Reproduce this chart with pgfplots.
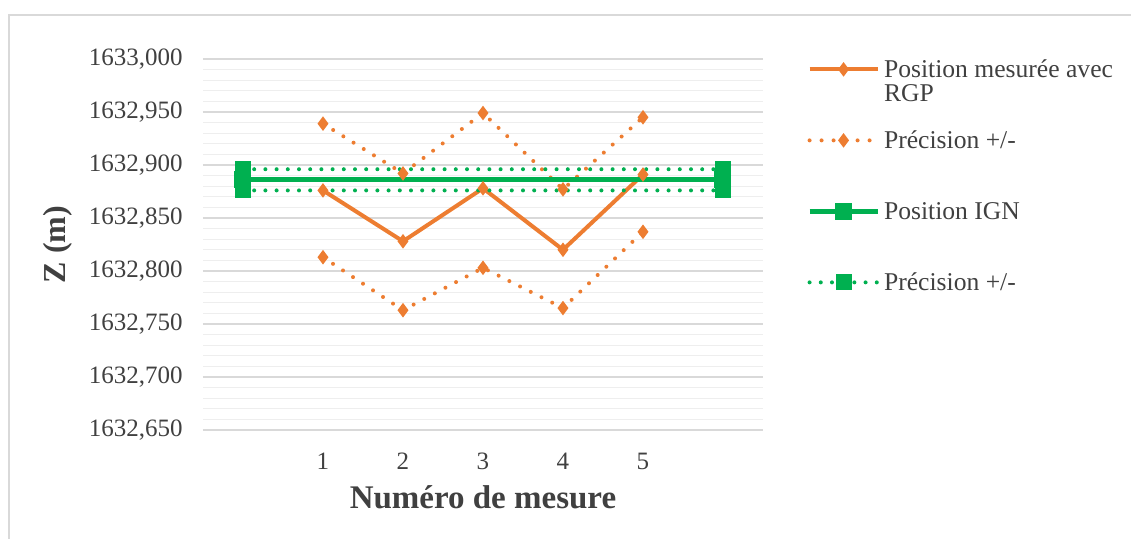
\documentclass[border=0pt]{standalone}
\usepackage{fontspec}
\setmainfont{Liberation Serif}
\usepackage{pgfplots}
\pgfplotsset{compat=1.18}
\definecolor{orng}{HTML}{ED7D31}
\definecolor{grn}{HTML}{00B050}
\definecolor{gridmaj}{HTML}{D9D9D9}
\definecolor{gridmin}{HTML}{EEEEEE}

\begin{document}
\begin{tikzpicture}
\useasboundingbox (-101.5pt,-54.5pt) rectangle (464pt,215pt);
\draw[gridmaj, line width=0.9pt] (-97pt,-60pt) -- (-97pt,207.5pt) -- (470pt,207.5pt);
\begin{axis}[
  scale only axis, width=280pt, height=185.5pt,
  xmin=-0.5, xmax=6.5, ymin=1632.65, ymax=1633,
  xtick={1,2,3,4,5},
  ytick={1632.65,1632.7,1632.75,1632.8,1632.85,1632.9,1632.95,1633},
  minor y tick num=4,
  ymajorgrids, yminorgrids,
  major grid style={gridmaj, line width=0.8pt},
  minor grid style={gridmin, line width=0.6pt},
  axis line style={draw=none},
  tick style={draw=none},
  /pgf/number format/assume math mode=true,
  ticklabel style={font=\fontsize{12.5}{13}\selectfont, text=black!75},
  yticklabel style={anchor=east, inner sep=0pt, xshift=-10pt,
    /pgf/number format/.cd, fixed, fixed zerofill, precision=3, use comma, 1000 sep={}},
  xticklabel style={anchor=center, yshift=-15.5pt},
  xlabel={Numéro de mesure},
  ylabel={Z (m)},
  every axis x label/.style={at={(axis description cs:0.5,-0.181)}, anchor=center,
    font=\fontsize{16.5}{18}\selectfont\bfseries, text=black!75},
  every axis y label/.style={at={(axis description cs:-0.259,0.5)}, anchor=center, rotate=90,
    font=\fontsize{16}{18}\selectfont\bfseries, text=black!75},
  legend image code/.code={\draw[mark repeat=2,mark phase=2,#1] plot coordinates {(0pt,4pt) (17pt,4pt) (34pt,4pt)};},
  legend style={at={(axis description cs:1.078,1.0647)}, anchor=north west, draw=none, fill=none,
    inner sep=0pt, row sep=11pt, column sep=0pt,
    font=\fontsize{12.8}{12}\selectfont,
    cells={anchor=base west, inner sep=0pt, text=black!75}},
  orangedot/.style={orng, line width=2pt, dash pattern=on 0pt off 6pt, line cap=round,
    mark=diamond*, mark size=2pt, mark options={solid, fill=orng}},
  greendot/.style={grn, line width=2pt, dash pattern=on 0pt off 5.6pt, line cap=round,
    mark=square*, mark size=3pt, mark options={solid, fill=grn}},
]
% mesures RGP
\addplot[orng, line width=2pt, mark=diamond*, mark size=2pt, mark options={fill=orng}] coordinates {
  (1,1632.876) (2,1632.828) (3,1632.878) (4,1632.820) (5,1632.891)};
\addlegendentry{\begin{tabular}[t]{@{}l@{}}\rule{0pt}{19pt}Position mesurée avec\\RGP\rule[-4pt]{0pt}{4pt}\end{tabular}}
\addplot[orangedot] coordinates {
  (1,1632.939) (2,1632.892) (3,1632.949) (4,1632.877) (5,1632.945)};
\addlegendentry{\rule[-16pt]{0pt}{35pt}Précision +/-}
\addplot[orangedot, forget plot] coordinates {
  (1,1632.813) (2,1632.763) (3,1632.803) (4,1632.765) (5,1632.837)};
% position IGN
\addplot[grn, line width=2.5pt, mark=square*, mark size=3pt, mark options={fill=grn}] coordinates {
  (0,1632.886) (6,1632.886)};
\addlegendentry{\rule[-16pt]{0pt}{35pt}Position IGN}
\addplot[greendot] coordinates {(0,1632.896) (6,1632.896)};
\addlegendentry{\rule[-16pt]{0pt}{35pt}Précision +/-}
\addplot[greendot, forget plot] coordinates {(0,1632.876) (6,1632.876)};
\end{axis}
\end{tikzpicture}
\end{document}
